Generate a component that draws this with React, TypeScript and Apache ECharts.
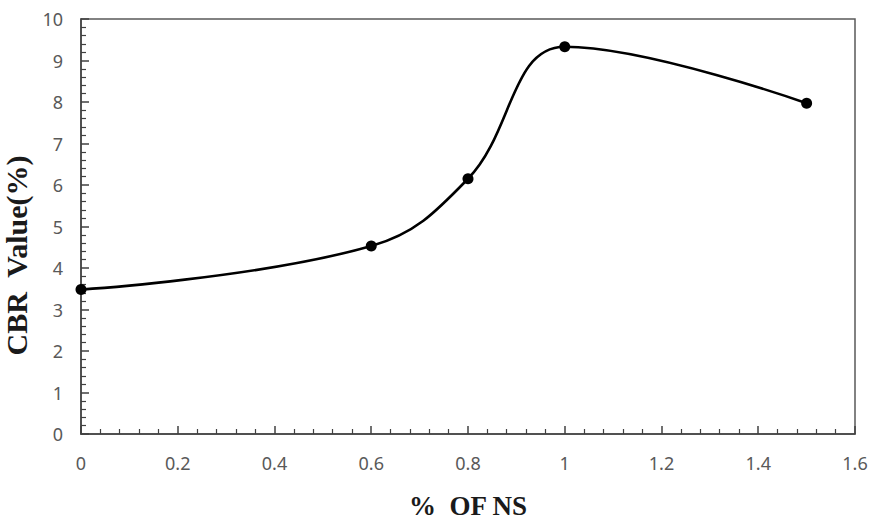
import React, { useEffect, useRef } from "react";
import * as echarts from "echarts";

const nsPercent = [0, 0.6, 0.8, 1, 1.5];
const cbrValues = [3.48, 4.53, 6.15, 9.33, 7.97];
const xAxisTitle = "%  OF NS";
const yAxisTitle = "CBR  Value(%)";

export default function App() {
  const ref = useRef<HTMLDivElement>(null);
  useEffect(() => {
    if (!ref.current) return;
    const chart = echarts.init(ref.current, null, { renderer: "svg" });
    const axisColor = "#404040";
    const labelStyle = { color: "#595959", fontSize: 18, fontFamily: "Noto Sans" };
    chart.setOption({
      animation: false,
      backgroundColor: "#ffffff",
      grid: {
        left: 81,
        right: 16,
        top: 19,
        bottom: 85,
        outerBoundsMode: "none",
        containLabel: false,
        show: true,
        borderColor: "#595959",
        borderWidth: 1.5,
      },
      xAxis: {
        type: "value",
        min: 0,
        max: 1.6,
        interval: 0.2,
        name: xAxisTitle,
        nameLocation: "middle",
        nameGap: 58,
        nameTextStyle: { fontFamily: "Liberation Serif", fontWeight: "bold", fontSize: 27, color: "#1a1a1a" },
        axisLine: { show: true, lineStyle: { color: axisColor, width: 1.5 } },
        axisTick: { show: true, inside: true, length: 8, lineStyle: { color: axisColor, width: 1.5 } },
        minorTick: { show: true, splitNumber: 5, length: 5, lineStyle: { color: axisColor, width: 1.2 } },
        axisLabel: { ...labelStyle, margin: 20, formatter: (v: number) => String(Math.round(v * 10) / 10) },
        splitLine: { show: false },
      },
      yAxis: {
        type: "value",
        min: 0,
        max: 10,
        interval: 1,
        name: yAxisTitle,
        nameLocation: "middle",
        nameRotate: 90,
        nameGap: 46,
        nameTextStyle: {
          fontFamily: "Liberation Serif",
          fontWeight: "bold",
          fontSize: 30,
          color: "#1a1a1a",
          padding: [0, 58, 0, 0],
        },
        axisLine: { show: true, lineStyle: { color: axisColor, width: 1.5 } },
        axisTick: { show: true, inside: true, length: 8, lineStyle: { color: axisColor, width: 1.5 } },
        minorTick: { show: true, splitNumber: 5, length: 5, lineStyle: { color: axisColor, width: 1.2 } },
        axisLabel: { ...labelStyle, margin: 18 },
        splitLine: { show: false },
      },
      series: [
        {
          type: "line",
          data: nsPercent.map((x, i) => [x, cbrValues[i]]),
          smooth: 0.4,
          symbol: "circle",
          symbolSize: 11,
          itemStyle: { color: "#000" },
          lineStyle: { color: "#000", width: 2.6 },
        },
      ],
    });
    return () => chart.dispose();
  }, []);
  return (
    <div
      ref={ref}
      style={{ position: "absolute", left: 0, top: 0, width: 871, height: 519 }}
    />
  );
}
